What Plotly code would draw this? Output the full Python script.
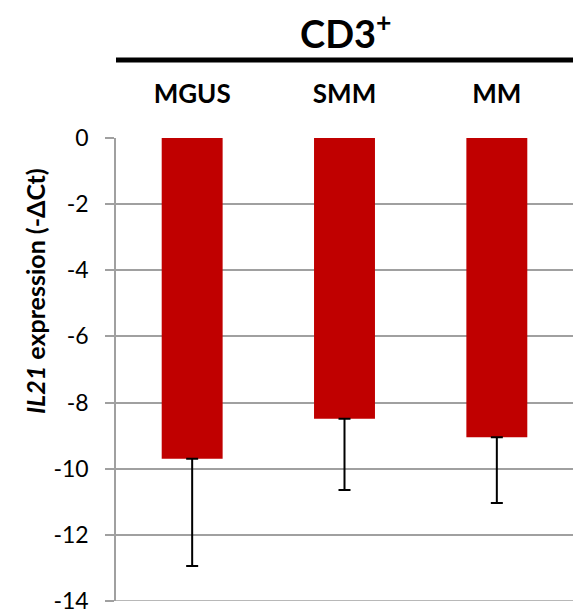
import plotly.graph_objects as go

# IL21 expression in CD3+ cells by disease stage
stages = ["MGUS", "SMM", "MM"]
mean_dct = [-9.70, -8.49, -9.05]
err_down = [3.24, 2.15, 1.99]
y_ticks = [0, -2, -4, -6, -8, -10, -12, -14]

W, H = 573, 614
L, R, T, B = 116, 0, 138, 13
plot_w = W - L - R
plot_h = H - T - B


def px_to_paper_y(py):
    return (H - B - py) / plot_h


def px_to_paper_x(px):
    return (px - L) / plot_w


FONT = "Lato"
GRID = "#a0a0a0"

fig = go.Figure()
fig.add_trace(go.Bar(
    x=stages,
    y=mean_dct,
    width=0.4,
    marker=dict(color="#C00000", line=dict(width=0)),
    error_y=dict(
        type="data",
        symmetric=False,
        array=[0] * len(err_down),
        arrayminus=err_down,
        color="black",
        thickness=2,
        width=6,
    ),
    showlegend=False,
))

fig.update_layout(
    width=W,
    height=H,
    margin=dict(l=L, r=R, t=T, b=B, pad=0),
    paper_bgcolor="white",
    plot_bgcolor="white",
    font=dict(family=FONT, color="black"),
    bargap=0.6,
    xaxis=dict(
        side="top",
        range=[-0.5, 2.5],
        showline=False,
        showgrid=False,
        zeroline=False,
        ticks="outside",
        ticklen=24,
        tickcolor="rgba(0,0,0,0)",
        tickfont=dict(family=FONT, size=26, color="black", weight="bold"),
    ),
    yaxis=dict(
        range=[-14, 0],
        tickvals=y_ticks,
        ticktext=[str(v) for v in y_ticks],
        showgrid=True,
        gridcolor=GRID,
        gridwidth=1.5,
        zeroline=False,
        showline=True,
        linecolor=GRID,
        linewidth=1.5,
        ticks="outside",
        ticklen=9,
        tickcolor=GRID,
        tickwidth=1.5,
        ticklabelstandoff=12,
        ticklabeloverflow="allow",
        tickfont=dict(family=FONT, size=23, color="black"),
    ),
)

# bottom boundary at -14
fig.add_shape(type="line", xref="paper", yref="y", x0=0, x1=1, y0=-14, y1=-14,
              line=dict(color=GRID, width=1.5))

# group bracket line and title
fig.add_shape(type="line", xref="paper", yref="paper",
              x0=0, x1=1, y0=px_to_paper_y(60), y1=px_to_paper_y(60),
              line=dict(color="black", width=5))
fig.add_annotation(
    text="<b>CD3<sup>+</sup></b>",
    xref="paper", yref="paper",
    x=px_to_paper_x(346), y=px_to_paper_y(31),
    xanchor="center", yanchor="middle",
    showarrow=False,
    font=dict(family=FONT, size=38, color="black"),
)

fig.add_annotation(
    text="<b><i>IL21</i> expression (-ΔCt)</b>",
    xref="paper", yref="paper",
    x=px_to_paper_x(35), y=px_to_paper_y(291),
    xanchor="center", yanchor="middle",
    textangle=-90,
    showarrow=False,
    font=dict(family=FONT, size=25, color="black"),
)

fig.write_html("out.html")
